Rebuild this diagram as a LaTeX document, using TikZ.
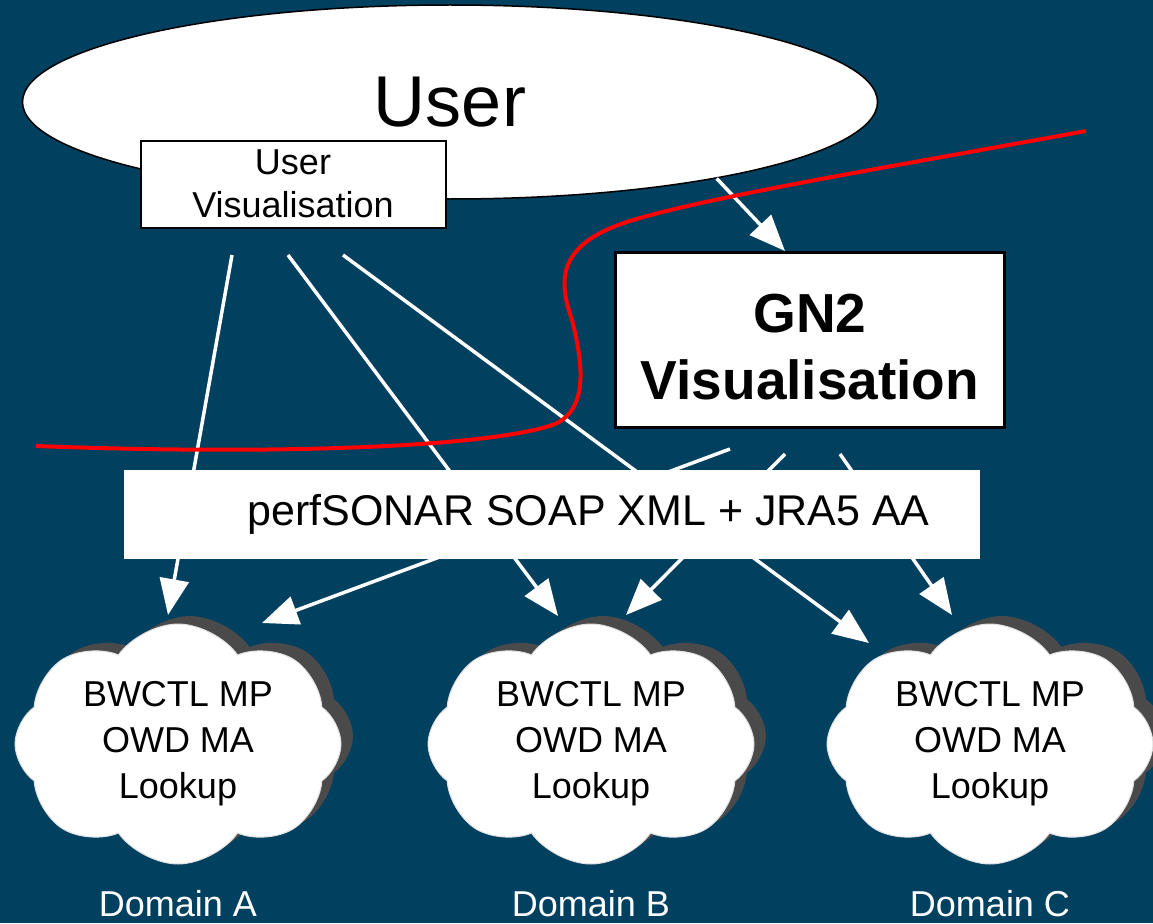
\documentclass[tikz,border=0pt]{standalone}
\usepackage{fontspec}
\setmainfont{Liberation Sans}
\usetikzlibrary{shapes.geometric, shapes.symbols, shadows, arrows.meta, positioning}

\definecolor{seablue}{RGB}{2,64,96}
\definecolor{puffshadow}{RGB}{74,74,74}

\tikzset{
  flow/.style={draw=white, line width=3.5pt, -{Triangle[length=36pt, width=29pt]}},
  whitebox/.style={rectangle, draw=black, fill=white, inner sep=0pt, align=center},
  domaincloud/.style={cloud, cloud puffs=8, cloud puff arc=110, cloud ignores aspect,
    fill=white, draw=gray!25, line width=1pt, minimum width=326pt, minimum height=240pt,
    inner sep=0pt, align=center, font=\fontsize{36}{46}\selectfont,
    drop shadow={shadow xshift=12pt, shadow yshift=8pt, fill=puffshadow, opacity=1}},
  domainlabel/.style={text=white, inner sep=0pt, font=\fontsize{36}{44}\selectfont},
  boundary/.style={draw=red, line width=4pt},
}

\begin{document}
\begin{tikzpicture}[x=1pt, y=-1pt]
    \useasboundingbox (0,0) rectangle (1153,923);
    \fill[seablue] (0,0) rectangle (1153,923);

    %% the user and the two visualisations
    \node[ellipse, draw=black, fill=white, line width=1.5pt, inner sep=0pt,
          minimum width=855pt, minimum height=194pt,
          font=\fontsize{72}{80}\selectfont] (user) at (450,102) {User};
    \node[whitebox, line width=2pt, minimum width=305pt, minimum height=87pt,
          font=\fontsize{36}{43}\selectfont] (uvis) at (293,184) {User\\Visualisation};
    \node[whitebox, line width=3pt, minimum width=389pt, minimum height=175pt,
          font=\fontsize{55}{67}\selectfont\bfseries] (gn2) at (810,340)
          {\rule{0pt}{52pt}GN2\\Visualisation};

    %% the three domains
    \node[domaincloud] (ca) at (178,744) {BWCTL MP\\OWD MA\\Lookup};
    \node[domaincloud] (cb) at (591,744) {BWCTL MP\\OWD MA\\Lookup};
    \node[domaincloud] (cc) at (990,744) {BWCTL MP\\OWD MA\\Lookup};
    \node[domainlabel, below=26pt of ca] (da) {Domain A};
    \node[domainlabel, below=26pt of cb] (db) {Domain B};
    \node[domainlabel, below=26pt of cc] (dc) {Domain C};

    %% requests
    \coordinate (u1) at (232,255);
    \coordinate (u2) at (288,255);
    \coordinate (u3) at (343,255);
    \coordinate (g1) at (730,449);
    \coordinate (g2) at (785,454);
    \coordinate (g3) at (840,454);
    \coordinate (a1) at (168,615);
    \coordinate (a2) at (262,623);
    \coordinate (b1) at (558,616);
    \coordinate (b2) at (626,615);
    \coordinate (c1) at (869,643);
    \coordinate (c2) at (952,615);
    \draw[flow] (u1) -- (a1);
    \draw[flow] (u2) -- (b1);
    \draw[flow] (u3) -- (c1);
    \draw[flow] (g1) -- (a2);
    \draw[flow] (g2) -- (b2);
    \draw[flow] (g3) -- (c2);
    \draw[flow] (user.-16.4) -- ([xshift=-25pt]gn2.north);

    %% the protocol layer
    \node[fill=white, inner sep=0pt, minimum width=856pt, minimum height=89pt,
          font=\fontsize{43}{50}\selectfont] (soap) at (552,514)
          {\hspace*{73pt}perfSONAR SOAP XML + JRA5 AA};

    %% the red boundary
    \draw[boundary] (36,446) .. controls (300,456) and (500,445) .. (555,424)
        .. controls (590,408) and (582,360) .. (572,320)
        .. controls (556,275) and (560,240) .. (640,218)
        .. controls (720,195) and (900,165) .. (1086,131);
\end{tikzpicture}
\end{document}
